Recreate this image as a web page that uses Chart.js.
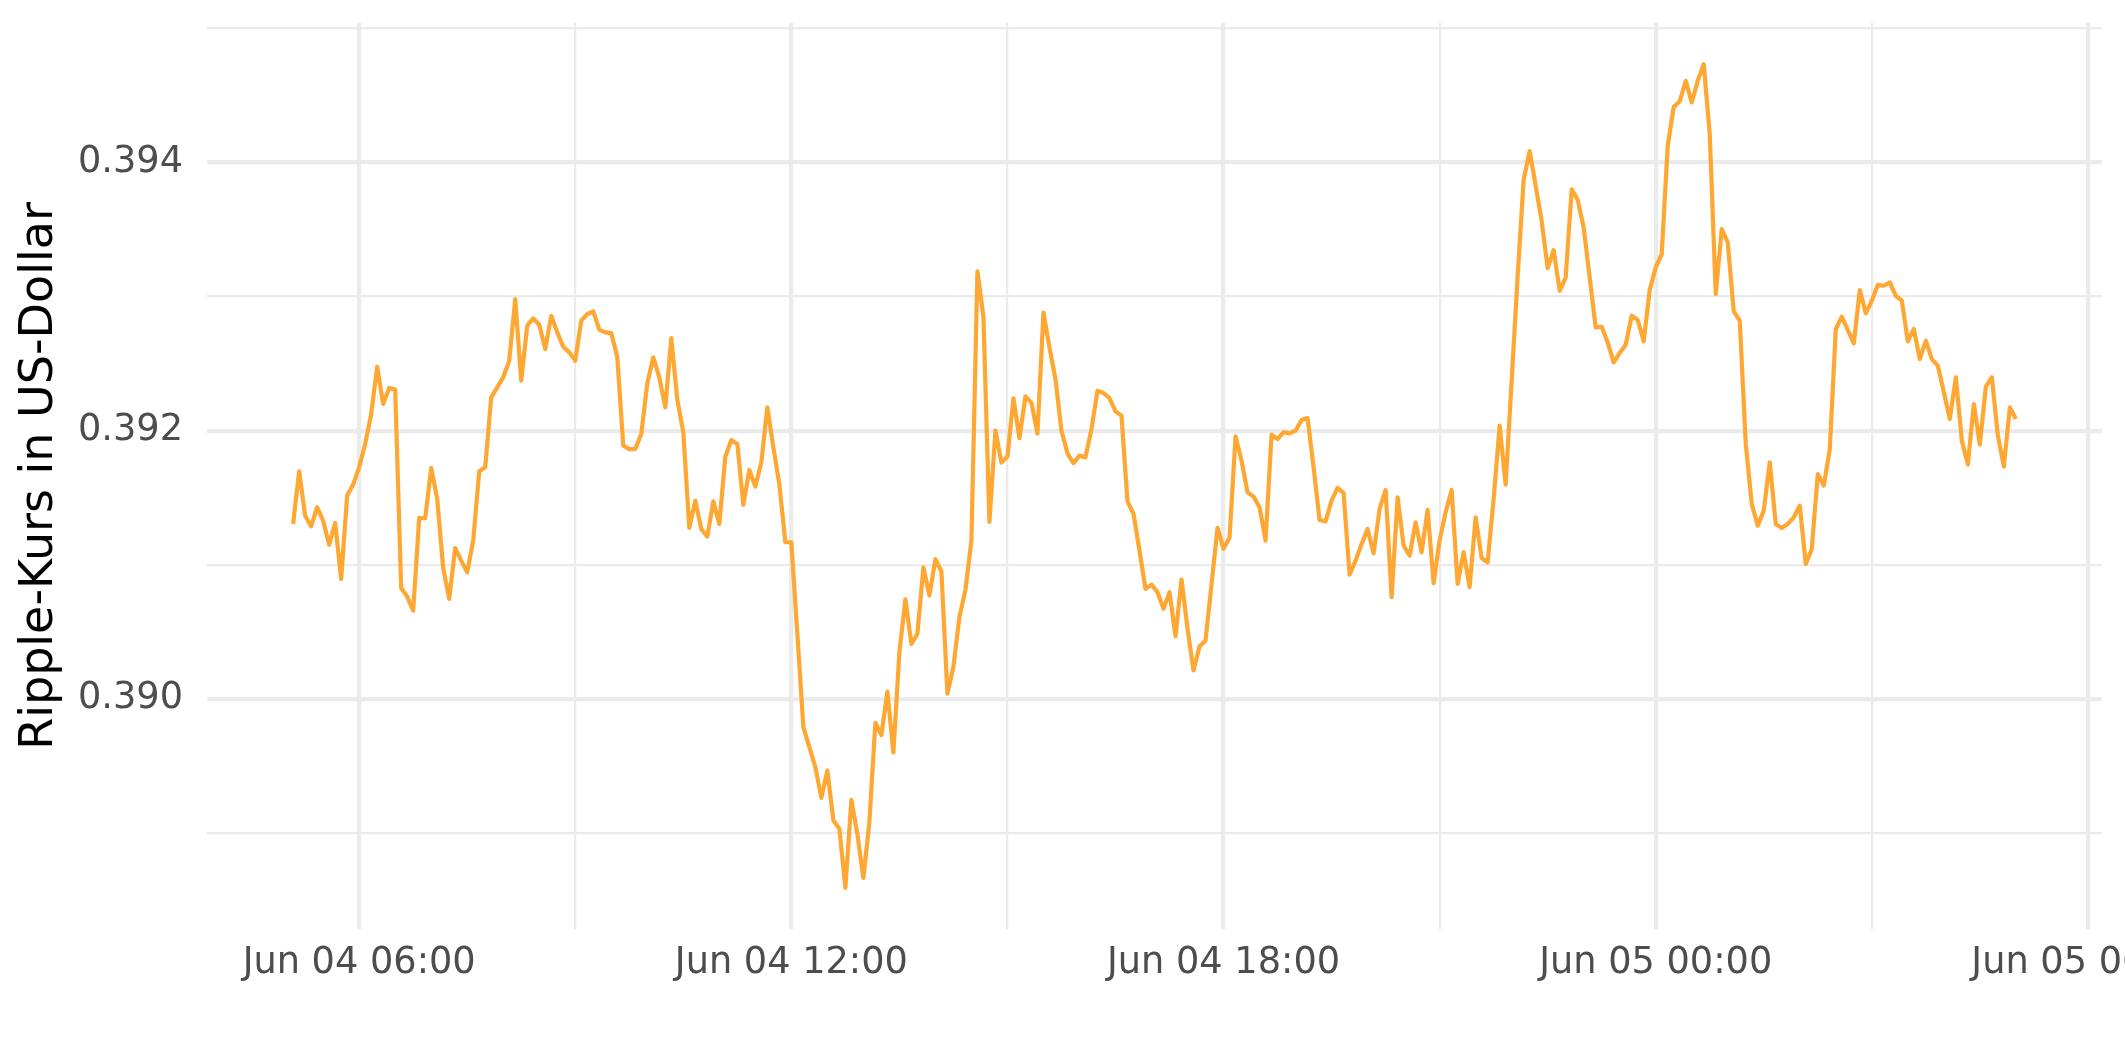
<!DOCTYPE html>
<html>
<head>
<meta charset="utf-8">
<script src="https://cdn.jsdelivr.net/npm/chart.js@4.4.1/dist/chart.umd.min.js"></script>
<style>
html,body{margin:0;padding:0;background:#ffffff;overflow:hidden}
canvas{display:block}
</style>
</head>
<body>
<canvas id="c" width="2125" height="1062"></canvas>
<script>
// ---- data ----
const startHour = 5 + 5 / 60;      // first sample: Jun 04 05:05 (hours since Jun 04 00:00)
const stepMinutes = 5;             // sampling interval
const prices = [
  0.391304, 0.391697, 0.391366, 0.391287, 0.391429, 0.391329, 0.391150, 0.391312, 0.390894, 0.391516,
  0.391598, 0.391727, 0.391901, 0.392124, 0.392477, 0.392199, 0.392318, 0.392306, 0.390827, 0.390763,
  0.390658, 0.391349, 0.391347, 0.391722, 0.391491, 0.390976, 0.390745, 0.391125, 0.391031, 0.390944,
  0.391180, 0.391697, 0.391727, 0.392248, 0.392323, 0.392398, 0.392522, 0.392981, 0.392373, 0.392783,
  0.392837, 0.392790, 0.392609, 0.392857, 0.392733, 0.392626, 0.392584, 0.392522, 0.392820, 0.392870,
  0.392889, 0.392753, 0.392733, 0.392728, 0.392547, 0.391888, 0.391863, 0.391863, 0.391975, 0.392353,
  0.392547, 0.392398, 0.392174, 0.392690, 0.392231, 0.391988, 0.391275, 0.391478, 0.391267, 0.391210,
  0.391473, 0.391304, 0.391806, 0.391930, 0.391901, 0.391448, 0.391707, 0.391583, 0.391764, 0.392174,
  0.391876, 0.391602, 0.391168, 0.391168, 0.390484, 0.389789, 0.389640, 0.389491, 0.389262, 0.389466,
  0.389093, 0.389031, 0.388591, 0.389247, 0.388991, 0.388664, 0.389081, 0.389822, 0.389730, 0.390054,
  0.389600, 0.390347, 0.390743, 0.390409, 0.390486, 0.390981, 0.390771, 0.391042, 0.390950, 0.390039,
  0.390239, 0.390610, 0.390811, 0.391181, 0.393189, 0.392849, 0.391320, 0.392000, 0.391762, 0.391805,
  0.392241, 0.391944, 0.392256, 0.392207, 0.391978, 0.392880, 0.392621, 0.392385, 0.392000, 0.391831,
  0.391757, 0.391814, 0.391801, 0.392012, 0.392298, 0.392281, 0.392243, 0.392144, 0.392112, 0.391473,
  0.391379, 0.391106, 0.390820, 0.390852, 0.390795, 0.390671, 0.390795, 0.390466, 0.390890, 0.390525,
  0.390212, 0.390391, 0.390436, 0.390853, 0.391275, 0.391119, 0.391201, 0.391958, 0.391776, 0.391540,
  0.391508, 0.391429, 0.391180, 0.391970, 0.391938, 0.391988, 0.391980, 0.392000, 0.392080, 0.392094,
  0.391727, 0.391334, 0.391324, 0.391478, 0.391573, 0.391535, 0.390927, 0.391031, 0.391155, 0.391267,
  0.391086, 0.391416, 0.391558, 0.390758, 0.391503, 0.391143, 0.391068, 0.391317, 0.391093, 0.391409,
  0.390863, 0.391181, 0.391392, 0.391558, 0.390858, 0.391094, 0.390833, 0.391354, 0.391051, 0.391019,
  0.391491, 0.392037, 0.391598, 0.392372, 0.393150, 0.393872, 0.394084, 0.393825, 0.393564, 0.393212,
  0.393346, 0.393043, 0.393142, 0.393800, 0.393721, 0.393515, 0.393142, 0.392770, 0.392775, 0.392658,
  0.392509, 0.392580, 0.392641, 0.392857, 0.392825, 0.392666, 0.393048, 0.393217, 0.393317, 0.394124,
  0.394415, 0.394455, 0.394609, 0.394447, 0.394609, 0.394733, 0.394211, 0.393019, 0.393503, 0.393404,
  0.392889, 0.392820, 0.391901, 0.391453, 0.391292, 0.391404, 0.391764, 0.391304, 0.391275, 0.391304,
  0.391354, 0.391441, 0.391006, 0.391118, 0.391677, 0.391590, 0.391863, 0.392758, 0.392850, 0.392750,
  0.392651, 0.393048, 0.392875, 0.392969, 0.393088, 0.393081, 0.393106, 0.393006, 0.392969, 0.392666,
  0.392758, 0.392534, 0.392671, 0.392534, 0.392484, 0.392286, 0.392087, 0.392398, 0.391925, 0.391747,
  0.392199, 0.391896, 0.392328, 0.392398, 0.391963, 0.391732, 0.392174, 0.392087
];
const xMajorHours = [6, 12, 18, 24, 30];
const xTickLabels = ["Jun 04 06:00", "Jun 04 12:00", "Jun 04 18:00", "Jun 05 00:00", "Jun 05 06:00"];
const xMinorHours = [9, 15, 21, 27];
const yMajorTicks = [0.390, 0.392, 0.394];
const yTickLabels = ["0.390", "0.392", "0.394"];
const yMinorTicks = [0.389, 0.391, 0.393, 0.395];
const yTitle = "Ripple-Kurs in US-Dollar";

// ---- build ----
const points = prices.map((p, i) => ({ x: startHour + i * stepMinutes / 60, y: p }));
const xs = points.map(p => p.x);
const xLo = Math.min(...xs), xHi = Math.max(...xs);
const yLo = Math.min(...prices), yHi = Math.max(...prices);
const xPad = (xHi - xLo) * 0.05, yPad = (yHi - yLo) * 0.05;

const near = (a, b) => Math.abs(a - b) < 1e-9;
const idxIn = (arr, v) => arr.findIndex(a => near(a, v));
const xGrid = [...xMajorHours, ...xMinorHours].sort((a, b) => a - b);
const yGrid = [...yMajorTicks, ...yMinorTicks].sort((a, b) => a - b);

const gridColor = '#EBEBEB';
const textColor = '#4D4D4D';
const fontFamily = "'DejaVu Sans', 'Liberation Sans', sans-serif";

new Chart(document.getElementById('c'), {
  type: 'line',
  data: {
    datasets: [{
      data: points,
      borderColor: '#FFA733',
      borderWidth: 4.2,
      pointRadius: 0,
      pointHoverRadius: 0,
      tension: 0,
      fill: false,
      borderJoinStyle: 'round',
      borderCapStyle: 'butt'
    }]
  },
  options: {
    responsive: false,
    animation: false,
    devicePixelRatio: 1,
    events: [],
    layout: { padding: { top: 23, right: 23, bottom: 0, left: 0 } },
    plugins: { legend: { display: false }, tooltip: { enabled: false }, title: { display: false } },
    scales: {
      x: {
        type: 'linear',
        min: xLo - xPad,
        max: xHi + xPad,
        afterBuildTicks: s => { s.ticks = xGrid.map(v => ({ value: v })); },
        afterFit: s => { s.height = 133; s.paddingLeft = 0; s.paddingRight = 0; },
        border: { display: false },
        grid: {
          color: gridColor,
          drawTicks: false,
          lineWidth: c => (c.tick && idxIn(xMajorHours, c.tick.value) >= 0) ? 4.3 : 2.2
        },
        ticks: {
          autoSkip: false,
          maxRotation: 0,
          minRotation: 0,
          padding: 12,
          color: textColor,
          font: { family: fontFamily, size: 36.7 },
          callback: v => { const k = idxIn(xMajorHours, v); return k >= 0 ? xTickLabels[k] : ''; }
        }
      },
      y: {
        type: 'linear',
        min: yLo - yPad,
        max: yHi + yPad,
        afterBuildTicks: s => { s.ticks = yGrid.map(v => ({ value: v })); },
        afterFit: s => { s.width = 207; s.paddingTop = 0; s.paddingBottom = 0; },
        border: { display: false },
        grid: {
          color: gridColor,
          drawTicks: false,
          lineWidth: c => (c.tick && idxIn(yMajorTicks, c.tick.value) >= 0) ? 4.3 : 2.2
        },
        ticks: {
          autoSkip: false,
          padding: 24,
          color: textColor,
          font: { family: fontFamily, size: 36.7 },
          callback: v => { const k = idxIn(yMajorTicks, v); return k >= 0 ? yTickLabels[k] : ''; }
        },
        title: {
          display: true,
          text: yTitle,
          color: '#000000',
          font: { family: fontFamily, size: 46, lineHeight: 1.2 },
          padding: { top: 12, bottom: 0 }
        }
      }
    }
  }
});
</script>
</body>
</html>
